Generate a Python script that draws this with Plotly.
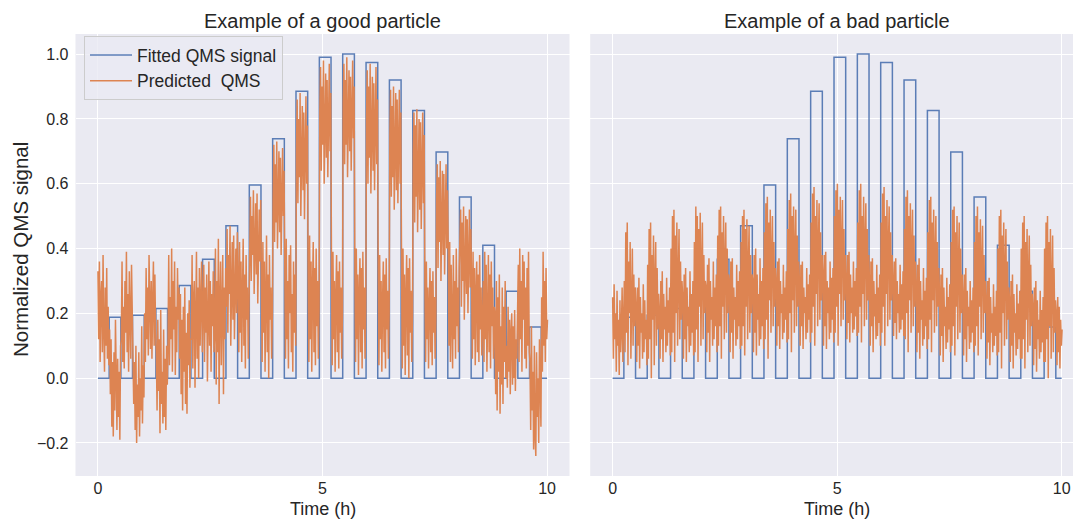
import plotly.graph_objects as go

# ---------------- data ----------------
pulse_start = [0.25, 0.77, 1.29, 1.81, 2.33, 2.85, 3.37, 3.89, 4.41, 4.93,
               5.45, 5.97, 6.49, 7.01, 7.53, 8.05, 8.57, 9.09, 9.61]
pulse_end = [0.51, 1.03, 1.55, 2.07, 2.59, 3.11, 3.63, 4.15, 4.67, 5.19,
             5.71, 6.23, 6.75, 7.27, 7.79, 8.31, 8.83, 9.35, 9.87]
pulse_height = [0.188, 0.194, 0.215, 0.286, 0.367, 0.47, 0.596, 0.739, 0.885, 0.99,
                1.0, 0.974, 0.92, 0.826, 0.698, 0.559, 0.41, 0.268, 0.158]
t_end = 10.0
sample_step = 0.01625  # hours between predicted samples

good_pred = [
    0.33, 0.12, 0.36, 0.05, 0.25, 0.30, 0.08, 0.38, 0.15, 0.02, 0.28, 0.10, 0.34, 0.06, 0.22, 0.04,
    0.15, -0.05, 0.12, -0.15, 0.05, -0.18, 0.08, -0.10, 0.18, -0.02, -0.16, 0.06, -0.12, 0.02, -0.19, 0.10,
    0.12, 0.36, 0.05, 0.22, 0.03, 0.30, 0.14, 0.39, 0.08, 0.26, 0.02, 0.33, 0.18, 0.06, 0.35, 0.15,
    0.14, -0.08, 0.05, -0.16, 0.10, -0.20, -0.02, -0.12, 0.08, -0.18, 0.00, -0.10, 0.16, -0.14, 0.04, -0.06,
    0.20, 0.05, 0.34, 0.12, 0.28, 0.07, 0.38, 0.16, 0.09, 0.30, 0.06, 0.24, 0.36, 0.10, 0.32, 0.14,
    0.08, -0.10, 0.18, -0.04, 0.12, -0.17, 0.21, -0.08, 0.02, -0.14, 0.15, -0.12, 0.06, -0.16, 0.10, -0.02,
    0.10, 0.38, 0.04, 0.25, 0.12, 0.40, 0.02, 0.30, 0.15, 0.36, 0.01, 0.22, 0.08, 0.34, 0.18, 0.28,
    0.06, 0.26, -0.05, 0.18, -0.10, 0.22, 0.02, 0.28, -0.08, 0.14, -0.11, 0.20, 0.04, 0.24, -0.03, 0.12,
    0.12, 0.38, 0.03, 0.24, 0.30, -0.03, 0.18, 0.39, 0.06, 0.28, 0.00, 0.34, 0.10, 0.22, 0.36, 0.08,
    0.20, 0.35, 0.05, 0.28, 0.14, 0.32, -0.01, 0.24, 0.36, 0.10, 0.30, 0.02, 0.26, 0.16, 0.33, 0.08,
    0.14, 0.40, -0.02, 0.30, 0.08, 0.43, -0.08, 0.24, 0.36, 0.04, 0.20, 0.38, -0.05, 0.28, 0.12, 0.34,
    0.22, 0.46, 0.14, 0.38, 0.26, 0.47, 0.10, 0.34, 0.42, 0.18, 0.44, 0.12, 0.30, 0.40, 0.20, 0.45,
    0.30, 0.08, 0.42, 0.14, 0.36, 0.05, 0.26, 0.43, 0.10, 0.32, 0.03, 0.38, 0.18, 0.28, 0.06, 0.22,
    0.45, 0.56, 0.30, 0.50, 0.38, 0.58, 0.26, 0.48, 0.54, 0.32, 0.57, 0.23, 0.44, 0.52, 0.36, 0.55,
    0.30, 0.05, 0.42, 0.14, 0.36, 0.02, 0.25, 0.44, 0.08, 0.32, 0.00, 0.38, 0.18, 0.28, 0.06, 0.20,
    0.55, 0.72, 0.42, 0.66, 0.48, 0.73, 0.40, 0.62, 0.70, 0.45, 0.68, 0.38, 0.58, 0.71, 0.50, 0.64,
    0.35, 0.06, 0.43, 0.12, 0.30, 0.03, 0.38, 0.20, 0.41, 0.08, 0.26, 0.02, 0.36, 0.14, 0.32, 0.10,
    0.70, 0.86, 0.54, 0.80, 0.62, 0.88, 0.50, 0.76, 0.84, 0.58, 0.82, 0.49, 0.72, 0.87, 0.60, 0.78,
    0.32, 0.05, 0.44, 0.12, 0.36, 0.02, 0.28, 0.42, 0.08, 0.34, 0.04, 0.40, 0.16, 0.30, 0.06, 0.22,
    0.82, 0.96, 0.64, 0.90, 0.72, 0.98, 0.60, 0.86, 0.94, 0.68, 0.92, 0.62, 0.80, 0.97, 0.70, 0.88,
    0.36, 0.04, 0.39, 0.12, 0.30, 0.02, 0.25, 0.38, 0.08, 0.33, 0.03, 0.36, 0.14, 0.28, 0.06, 0.20,
    0.85, 0.97, 0.66, 0.92, 0.72, 0.99, 0.62, 0.88, 0.95, 0.70, 0.93, 0.64, 0.80, 0.98, 0.74, 0.90,
    0.38, 0.05, 0.40, 0.12, 0.32, 0.01, 0.26, 0.37, 0.08, 0.34, 0.03, 0.39, 0.15, 0.28, 0.06, 0.22,
    0.80, 0.95, 0.60, 0.90, 0.68, 0.97, 0.57, 0.84, 0.93, 0.64, 0.91, 0.58, 0.76, 0.96, 0.66, 0.86,
    0.35, 0.04, 0.38, 0.12, 0.30, 0.02, 0.24, 0.36, 0.08, 0.32, 0.03, 0.37, 0.15, 0.27, 0.06, 0.20,
    0.75, 0.89, 0.56, 0.84, 0.62, 0.90, 0.52, 0.78, 0.88, 0.58, 0.86, 0.54, 0.70, 0.89, 0.60, 0.82,
    0.36, 0.03, 0.40, 0.10, 0.32, 0.01, 0.25, 0.38, 0.07, 0.34, 0.00, 0.37, 0.14, 0.27, 0.05, 0.20,
    0.70, 0.82, 0.48, 0.78, 0.56, 0.83, 0.45, 0.72, 0.80, 0.52, 0.79, 0.46, 0.64, 0.82, 0.54, 0.75,
    0.30, 0.05, 0.36, 0.12, 0.28, 0.03, 0.22, 0.34, 0.08, 0.30, 0.04, 0.33, 0.14, 0.25, 0.06, 0.18,
    0.55, 0.66, 0.34, 0.62, 0.42, 0.67, 0.30, 0.56, 0.64, 0.38, 0.63, 0.32, 0.50, 0.66, 0.40, 0.58,
    0.40, 0.10, 0.42, 0.05, 0.35, 0.20, 0.03, 0.38, 0.12, 0.30, 0.06, 0.40, 0.16, 0.28, 0.08, 0.34,
    0.45, 0.52, 0.22, 0.48, 0.30, 0.53, 0.18, 0.42, 0.50, 0.26, 0.49, 0.20, 0.38, 0.52, 0.28, 0.46,
    0.30, 0.06, 0.39, 0.12, 0.34, 0.04, 0.26, 0.36, 0.08, 0.32, 0.05, 0.38, 0.15, 0.28, 0.07, 0.22,
    0.30, 0.05, 0.39, 0.12, 0.35, 0.02, 0.26, 0.38, 0.08, 0.32, 0.03, 0.36, 0.16, 0.28, 0.06, 0.22,
    0.20, -0.05, 0.30, -0.10, 0.25, 0.02, 0.32, -0.11, 0.16, -0.02, 0.28, -0.08, 0.22, 0.05, 0.30, 0.00,
    0.10, -0.03, 0.22, 0.02, 0.18, -0.05, 0.14, 0.20, -0.02, 0.16, 0.00, 0.21, -0.04, 0.12, 0.06, 0.19,
    0.35, 0.05, 0.40, 0.12, 0.30, 0.02, 0.38, 0.18, 0.36, 0.06, 0.28, 0.03, 0.34, 0.10, 0.39, 0.08,
    0.05, -0.16, 0.16, -0.10, 0.02, -0.22, 0.10, -0.18, -0.24, 0.08, -0.12, 0.00, -0.20, 0.12, -0.08, -0.15,
    0.25, 0.02, 0.39, 0.10, 0.30, 0.05, 0.34, 0.12, 0.18,
]

bad_pred = [
    0.25, 0.06, 0.29, 0.12, 0.20, 0.02, 0.27, 0.10, 0.18, 0.01, 0.24, 0.08, 0.15, 0.28, 0.05, 0.20,
    0.30, 0.08, 0.45, 0.14, 0.48, 0.04, 0.36, 0.20, 0.42, 0.06, 0.25, 0.40, 0.10, 0.32, 0.16, 0.28,
    0.22, 0.05, 0.28, 0.10, 0.31, 0.03, 0.25, 0.14, 0.20, 0.06, 0.29, 0.08, 0.24, 0.12, 0.18, 0.04,
    0.35, 0.06, 0.46, 0.12, 0.48, 0.00, 0.38, 0.18, 0.44, 0.04, 0.30, 0.42, 0.10, 0.34, 0.15, 0.26,
    0.20, 0.06, 0.30, 0.12, 0.33, 0.05, 0.26, 0.15, 0.22, 0.08, 0.31, 0.10, 0.24, 0.14, 0.28, 0.07,
    0.40, 0.08, 0.50, 0.14, 0.52, 0.05, 0.44, 0.20, 0.48, 0.10, 0.32, 0.46, 0.12, 0.36, 0.18, 0.30,
    0.25, 0.06, 0.32, 0.12, 0.34, 0.05, 0.28, 0.16, 0.22, 0.08, 0.33, 0.10, 0.26, 0.14, 0.30, 0.07,
    0.42, 0.08, 0.53, 0.15, 0.50, 0.05, 0.46, 0.22, 0.51, 0.10, 0.34, 0.48, 0.12, 0.38, 0.20, 0.30,
    0.28, 0.08, 0.35, 0.14, 0.37, 0.05, 0.30, 0.18, 0.25, 0.10, 0.36, 0.12, 0.28, 0.16, 0.32, 0.08,
    0.44, 0.10, 0.52, 0.16, 0.53, 0.06, 0.45, 0.22, 0.50, 0.12, 0.36, 0.48, 0.14, 0.40, 0.20, 0.32,
    0.30, 0.08, 0.36, 0.14, 0.37, 0.06, 0.28, 0.18, 0.25, 0.10, 0.35, 0.12, 0.30, 0.16, 0.33, 0.09,
    0.42, 0.10, 0.50, 0.16, 0.52, 0.07, 0.46, 0.22, 0.49, 0.12, 0.35, 0.47, 0.14, 0.38, 0.20, 0.32,
    0.30, 0.08, 0.38, 0.14, 0.40, 0.07, 0.32, 0.18, 0.26, 0.10, 0.37, 0.12, 0.30, 0.16, 0.34, 0.09,
    0.45, 0.12, 0.54, 0.18, 0.56, 0.06, 0.48, 0.24, 0.52, 0.14, 0.38, 0.50, 0.16, 0.42, 0.22, 0.34,
    0.30, 0.10, 0.36, 0.16, 0.37, 0.09, 0.30, 0.20, 0.26, 0.12, 0.35, 0.14, 0.28, 0.18, 0.33, 0.11,
    0.46, 0.12, 0.55, 0.20, 0.57, 0.08, 0.50, 0.24, 0.53, 0.14, 0.40, 0.52, 0.16, 0.44, 0.22, 0.36,
    0.30, 0.10, 0.35, 0.16, 0.36, 0.09, 0.28, 0.20, 0.25, 0.12, 0.34, 0.14, 0.29, 0.18, 0.32, 0.11,
    0.48, 0.14, 0.57, 0.22, 0.59, 0.10, 0.50, 0.26, 0.55, 0.16, 0.42, 0.54, 0.18, 0.45, 0.24, 0.38,
    0.32, 0.10, 0.38, 0.16, 0.39, 0.09, 0.30, 0.20, 0.28, 0.12, 0.36, 0.14, 0.31, 0.18, 0.34, 0.11,
    0.50, 0.14, 0.58, 0.22, 0.60, 0.10, 0.52, 0.26, 0.56, 0.16, 0.42, 0.55, 0.18, 0.46, 0.24, 0.38,
    0.30, 0.12, 0.38, 0.17, 0.39, 0.11, 0.32, 0.20, 0.28, 0.14, 0.36, 0.15, 0.30, 0.19, 0.34, 0.13,
    0.48, 0.14, 0.58, 0.22, 0.60, 0.11, 0.50, 0.26, 0.56, 0.16, 0.42, 0.54, 0.18, 0.46, 0.24, 0.38,
    0.30, 0.10, 0.36, 0.16, 0.37, 0.08, 0.30, 0.19, 0.26, 0.12, 0.35, 0.13, 0.28, 0.17, 0.32, 0.10,
    0.48, 0.14, 0.57, 0.22, 0.59, 0.10, 0.50, 0.26, 0.55, 0.16, 0.42, 0.53, 0.18, 0.45, 0.24, 0.38,
    0.30, 0.13, 0.36, 0.17, 0.37, 0.12, 0.30, 0.20, 0.26, 0.14, 0.35, 0.15, 0.29, 0.18, 0.33, 0.13,
    0.46, 0.12, 0.56, 0.20, 0.58, 0.08, 0.50, 0.24, 0.54, 0.14, 0.40, 0.52, 0.16, 0.44, 0.22, 0.36,
    0.28, 0.08, 0.35, 0.14, 0.37, 0.06, 0.30, 0.18, 0.24, 0.10, 0.34, 0.12, 0.27, 0.16, 0.31, 0.09,
    0.45, 0.12, 0.55, 0.18, 0.56, 0.08, 0.48, 0.24, 0.52, 0.14, 0.38, 0.50, 0.16, 0.42, 0.22, 0.34,
    0.26, 0.07, 0.32, 0.13, 0.34, 0.05, 0.28, 0.16, 0.22, 0.09, 0.31, 0.11, 0.25, 0.15, 0.29, 0.08,
    0.42, 0.10, 0.52, 0.16, 0.53, 0.07, 0.45, 0.22, 0.50, 0.12, 0.36, 0.48, 0.14, 0.40, 0.20, 0.32,
    0.25, 0.07, 0.32, 0.12, 0.34, 0.05, 0.27, 0.16, 0.22, 0.09, 0.30, 0.11, 0.24, 0.14, 0.28, 0.08,
    0.42, 0.10, 0.50, 0.16, 0.53, 0.07, 0.45, 0.22, 0.49, 0.12, 0.35, 0.47, 0.14, 0.38, 0.20, 0.30,
    0.24, 0.06, 0.30, 0.11, 0.31, 0.04, 0.25, 0.14, 0.20, 0.08, 0.29, 0.10, 0.22, 0.13, 0.27, 0.07,
    0.40, 0.08, 0.50, 0.14, 0.52, 0.03, 0.44, 0.20, 0.48, 0.10, 0.34, 0.46, 0.12, 0.36, 0.18, 0.28,
    0.24, 0.05, 0.30, 0.10, 0.32, 0.03, 0.26, 0.14, 0.20, 0.07, 0.29, 0.09, 0.23, 0.12, 0.27, 0.06,
    0.40, 0.06, 0.48, 0.12, 0.50, 0.03, 0.42, 0.18, 0.46, 0.08, 0.32, 0.44, 0.10, 0.35, 0.16, 0.26,
    0.22, 0.04, 0.28, 0.09, 0.30, 0.02, 0.24, 0.12, 0.18, 0.06, 0.27, 0.08, 0.21, 0.11, 0.25, 0.05,
    0.40, 0.05, 0.48, 0.12, 0.50, 0.00, 0.42, 0.16, 0.46, 0.06, 0.30, 0.44, 0.08, 0.34, 0.14, 0.24,
    0.20, 0.04, 0.25, 0.08, 0.22, 0.03, 0.18, 0.10, 0.15,
]

y_ticks = [-0.2, 0.0, 0.2, 0.4, 0.6, 0.8, 1.0]
x_ticks = [0, 5, 10]
titles = ["Example of a good particle", "Example of a bad particle"]
legend_names = ["Fitted QMS signal", "Predicted\u00a0 QMS"]

# ---------------- build step signal ----------------
step_x, step_y = [0.0], [0.0]
for s, e, h in zip(pulse_start, pulse_end, pulse_height):
    step_x += [s, e]
    step_y += [h, 0.0]
step_x.append(t_end)
step_y.append(0.0)

BLUE = "#4C72B0"
ORANGE = "#DD8452"
TEXT = "#262626"
FONT = "Liberation Sans, Arial, sans-serif"
W, H = 1073, 520

fig = go.Figure()
for i, (pred, xa, ya) in enumerate([(good_pred, "x", "y"), (bad_pred, "x2", "y2")]):
    fig.add_trace(go.Scatter(
        x=step_x, y=step_y, mode="lines", line=dict(color=BLUE, width=1.5, shape="hv"),
        name=legend_names[0], showlegend=(i == 0), xaxis=xa, yaxis=ya, opacity=0.9))
    fig.add_trace(go.Scatter(
        y=pred, x0=0, dx=sample_step, mode="lines", line=dict(color=ORANGE, width=1.5),
        name=legend_names[1], showlegend=(i == 0), xaxis=xa, yaxis=ya))

px_per_h = 44.9
left_dom = [75.5 / W, 569.5 / W]
right_dom = [590.2 / W, 1.0]
right_max = 10.5 - (590.2 + 11 * px_per_h - W) / px_per_h
y_dom = [1 - 476 / H, 1 - 34 / H]

axis_common = dict(showgrid=True, gridcolor="white", gridwidth=1, zeroline=False,
                   showline=False, ticks="", tickfont=dict(size=16, color=TEXT, family=FONT))

fig.update_layout(
    width=W, height=H, margin=dict(l=0, r=0, t=0, b=0),
    paper_bgcolor="white", plot_bgcolor="#EAEAF2",
    font=dict(family=FONT, color=TEXT),
    xaxis=dict(domain=left_dom, range=[-0.5, 10.5], tickvals=x_ticks, anchor="y",
               ticklabelstandoff=1, **axis_common),
    xaxis2=dict(domain=right_dom, range=[-0.5, right_max], tickvals=x_ticks, anchor="y2",
                ticklabelstandoff=1, **axis_common),
    yaxis=dict(domain=y_dom, range=[-0.302, 1.062], tickvals=y_ticks, tickformat=".1f",
               anchor="x", ticklabelstandoff=6, **axis_common),
    yaxis2=dict(domain=y_dom, range=[-0.302, 1.062], tickvals=y_ticks, matches="y",
                showticklabels=False, anchor="x2", **axis_common),
    legend=dict(x=84 / W, y=1 - 36 / H, xanchor="left", yanchor="top",
                bgcolor="rgba(234,234,242,0.8)", bordercolor="#CCCCCC", borderwidth=1,
                font=dict(size=17.5, color=TEXT, family=FONT), tracegroupgap=0,
                itemwidth=42),
    showlegend=True,
)

ann = []
for title, cx in zip(titles, [322.5, 837.0]):
    ann.append(dict(text=title, x=cx / W, y=1 - 21 / H, xref="paper", yref="paper",
                    xanchor="center", yanchor="middle", showarrow=False,
                    font=dict(size=20, color=TEXT, family=FONT)))
    ann.append(dict(text="Time (h)", x=cx / W, y=0, xref="paper", yref="paper",
                    xanchor="center", yanchor="bottom", showarrow=False, borderpad=0,
                    font=dict(size=18, color=TEXT, family=FONT)))
ann.append(dict(text="Normalized QMS signal", x=20 / W, y=1 - 250 / H, xref="paper",
                yref="paper", xanchor="center", yanchor="middle", showarrow=False,
                textangle=-90, font=dict(size=20.5, color=TEXT, family=FONT)))
fig.update_layout(annotations=ann)

fig.write_html("out.html")
